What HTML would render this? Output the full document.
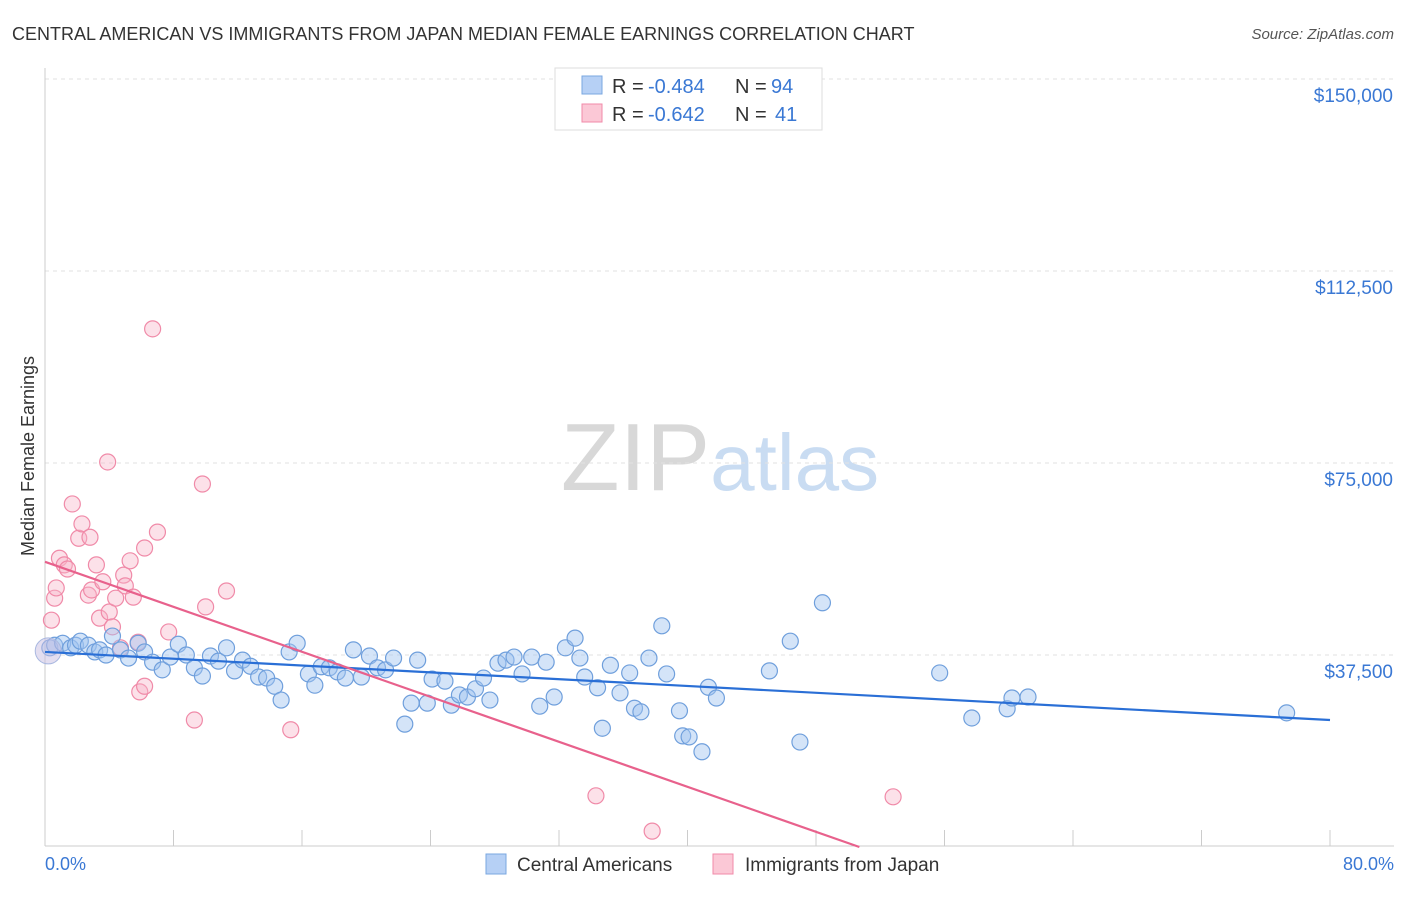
<!DOCTYPE html>
<html><head><meta charset="utf-8"><style>
body{margin:0;background:#fff;font-family:"Liberation Sans",sans-serif;}
svg text{font-family:"Liberation Sans",sans-serif;}
</style></head><body>
<svg id="chart" width="1406" height="892" viewBox="0 0 1406 892" xmlns="http://www.w3.org/2000/svg">
<text x="12" y="40" font-size="18" fill="#333">CENTRAL AMERICAN VS IMMIGRANTS FROM JAPAN MEDIAN FEMALE EARNINGS CORRELATION CHART</text>
<text x="1394" y="39" font-size="15" fill="#555" text-anchor="end" font-style="italic">Source: ZipAtlas.com</text>
<text x="720" y="490" font-size="96" text-anchor="middle" fill="#ddd" font-family="Liberation Serif"><tspan fill="#d8d8d8">ZIP</tspan><tspan fill="#c9dcf2" font-family="Liberation Sans" font-size="80">atlas</tspan></text>
<g id="grid"></g>
<g id="axes"></g>
<g id="marks"></g>
<text transform="translate(34,456) rotate(-90)" font-size="18" fill="#333" text-anchor="middle">Median Female Earnings</text>
<text x="45" y="870" font-size="18" fill="#3a78d4">0.0%</text>
<text x="1394" y="870" font-size="18" fill="#3a78d4" text-anchor="end">80.0%</text>
<g>
<rect x="555" y="68" width="267" height="62" fill="#fff" stroke="#ddd"/>
<rect x="582" y="76" width="20" height="18" fill="#b6d0f5" stroke="#7aa7e0"/>
<text x="612" y="93" font-size="20" fill="#333">R =</text>
<text x="648" y="93" font-size="20" fill="#3a78d4">-0.484</text>
<text x="735" y="93" font-size="20" fill="#333">N =</text>
<text x="771" y="93" font-size="20" fill="#3a78d4">94</text>
<rect x="582" y="104" width="20" height="18" fill="#fbc8d6" stroke="#f08aa8"/>
<text x="612" y="121" font-size="20" fill="#333">R =</text>
<text x="648" y="121" font-size="20" fill="#3a78d4">-0.642</text>
<text x="735" y="121" font-size="20" fill="#333">N =</text>
<text x="775" y="121" font-size="20" fill="#3a78d4">41</text>
</g>
<g>
<rect x="486" y="854" width="20" height="20" fill="#b6d0f5" stroke="#7aa7e0"/>
<text x="517" y="871" font-size="19" fill="#333">Central Americans</text>
<rect x="713" y="854" width="20" height="20" fill="#fbc8d6" stroke="#f08aa8"/>
<text x="745" y="871" font-size="19" fill="#333">Immigrants from Japan</text>
</g>
</svg>
<script>
const yTicks=[37500,75000,112500,150000];
const yTickLabels=["$37,500","$75,000","$112,500","$150,000"];
const xTicks=[0,8,16,24,32,40,48,56,64,72,80];
const blueX=[0.3,0.6,1.1,1.6,1.9,2.2,2.7,3.1,3.4,3.8,4.2,4.7,5.2,5.8,6.2,6.7,7.3,7.8,8.3,8.8,9.3,9.8,10.3,10.8,11.3,11.8,12.3,12.8,13.3,13.8,14.3,14.7,15.2,15.7,16.4,16.8,17.2,17.7,18.2,18.7,19.2,19.7,20.2,20.7,21.2,21.7,22.4,22.8,23.2,23.8,24.1,24.9,25.3,25.8,26.3,26.8,27.3,27.7,28.2,28.7,29.2,29.7,30.3,30.8,31.2,31.7,32.4,33.0,33.3,33.6,34.4,34.7,35.2,35.8,36.4,36.7,37.1,37.6,38.4,38.7,39.5,39.7,40.1,40.9,41.3,41.8,45.1,46.4,47.0,48.4,55.7,57.7,59.9,60.2,61.2,77.3];
const blueY=[38.9,39.4,39.8,38.9,39.4,40.2,39.4,38.1,38.5,37.5,41.2,38.5,36.9,39.8,38.1,36.1,34.6,37.1,39.6,37.5,35.0,33.4,37.3,36.3,38.9,34.4,36.5,35.3,33.2,33.0,31.4,28.7,38.1,39.8,33.8,31.6,35.2,35.0,34.2,33.0,38.5,33.2,37.3,35.0,34.6,36.9,24.0,28.1,36.5,28.1,32.8,32.4,27.7,29.7,29.3,30.9,33.0,28.7,35.9,36.5,37.1,33.8,37.1,27.5,36.1,29.3,38.9,40.8,36.9,33.2,31.1,23.2,35.5,30.1,34.0,27.1,26.4,36.9,43.2,33.8,26.6,21.7,21.5,18.6,31.2,29.1,34.4,40.2,20.5,47.7,34.0,25.2,27.0,29.1,29.3,26.2];
const pinkX=[0.4,0.6,0.9,1.2,1.7,0.7,1.4,2.1,2.3,2.8,2.7,2.9,3.2,3.4,3.6,3.9,4.0,4.2,4.4,4.7,4.9,5.0,5.3,5.5,5.8,5.9,6.2,6.2,6.7,7.0,7.7,9.3,9.8,10.0,11.3,15.3,34.3,37.8,52.8];
const pinkY=[44.3,48.6,56.4,55.1,67.0,50.6,54.3,60.3,63.1,60.5,49.2,50.2,55.1,44.7,51.8,75.2,45.9,43.0,48.6,38.9,53.1,51.0,55.9,48.8,40.0,30.3,31.4,58.4,101.2,61.5,42.0,24.8,70.9,46.9,50.0,22.9,10.0,3.1,9.8];
const blueTrend=[[0,38.1],[80,24.8]];
const pinkTrend=[[0,55.7],[50.7,0]];
const NS="http://www.w3.org/2000/svg";
const X0=45,X1=1330,Y0=847;
function sx(v){return X0+(X1-X0)*v/80;}
function sy(v){return Y0-v*192/37500;}
function mk(tag,attrs,parent){const e=document.createElementNS(NS,tag);for(const k in attrs)e.setAttribute(k,attrs[k]);parent.appendChild(e);return e;}
const grid=document.getElementById('grid'),axes=document.getElementById('axes'),marks=document.getElementById('marks');
yTicks.forEach((t,i)=>{
 const l=mk('line',{x1:45,x2:1394,y1:sy(t),y2:sy(t),stroke:'#e2e2e2','stroke-dasharray':'4,4'},grid);
 
 
 const tx=mk('text',{x:1393,y:sy(t)+23,'font-size':19,fill:'#3a78d4','text-anchor':'end'},axes);
 tx.textContent=yTickLabels[i];
 
 
});
const topLine=mk('line',{x1:45,x2:1394,y1:79,y2:79,stroke:'#e2e2e2','stroke-dasharray':'4,4'},grid);


const ya=mk('line',{x1:45,x2:45,y1:68,y2:846,stroke:'#ccc'},axes);


const xa=mk('line',{x1:45,x2:1394,y1:846,y2:846,stroke:'#ccc'},axes);


xTicks.forEach(t=>{
 const l=mk('line',{x1:sx(t),x2:sx(t),y1:830,y2:846,stroke:'#ccc'},axes);
 
 
});
function dots(xs,ys,fill,stroke,name){
 xs.forEach((x,i)=>{
  const c=mk('circle',{cx:sx(x),cy:sy(ys[i]*1000),r:8,fill:fill,stroke:stroke,'stroke-width':1.2},marks);
  
  
 });
}
dots(pinkX,pinkY,'rgba(248,180,200,0.4)','#f08aa8','point-japan');
dots(blueX,blueY,'rgba(160,196,240,0.45)','#6f9fdc','point-central');
const big=mk('circle',{cx:sx(0.2),cy:sy(38300),r:13,fill:'rgba(200,190,225,0.5)',stroke:'#a9b8e0'},marks);


function trend(p,color,name){
 const l=mk('line',{x1:sx(p[0][0]),y1:sy(p[0][1]*1000),x2:sx(p[1][0]),y2:sy(p[1][1]*1000),stroke:color,'stroke-width':2.2},marks);
 
 
}
trend(blueTrend,'#2a6fd6','trend-central');
trend(pinkTrend,'#e8618c','trend-japan');
</script>
</body></html>
